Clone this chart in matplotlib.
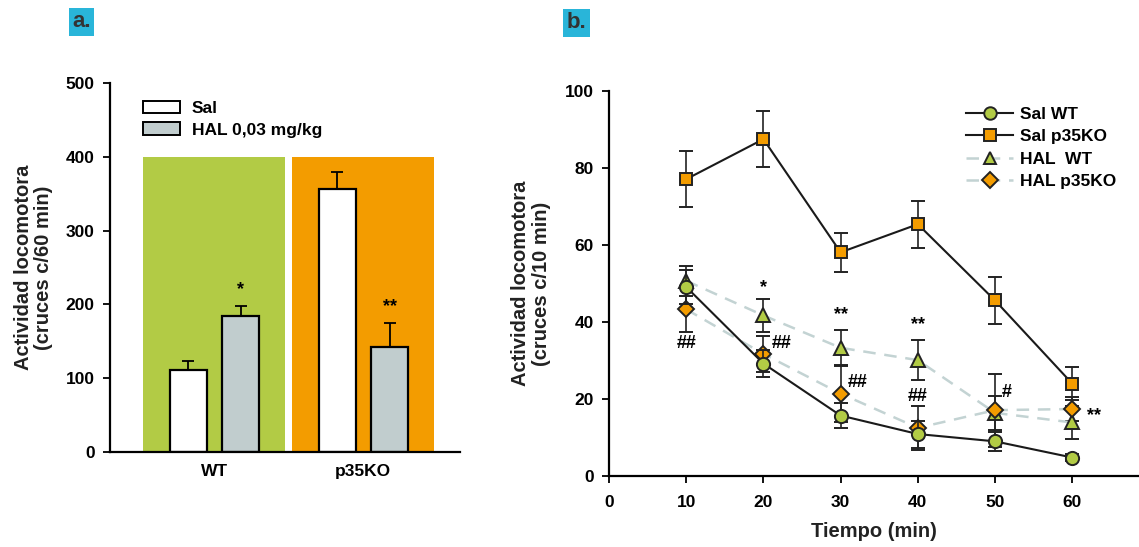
import matplotlib.pyplot as plt
import numpy as np
from matplotlib.patches import Patch
from matplotlib.lines import Line2D

plt.rcParams['font.family'] = ['Liberation Sans', 'DejaVu Sans']
plt.rcParams['font.weight'] = 'bold'

# ---------------- datos panel a ----------------
genotipos = ['WT', 'p35KO']
sal_total = [111, 356]
sal_total_se = [12, 23]
hal_total = [184, 142]
hal_total_se = [14, 33]
fondo_alto = 400
marcas_a = ['*', '**']

# ---------------- datos panel b ----------------
tiempo = [10, 20, 30, 40, 50, 60]
sal_wt = [49.1, 29.2, 15.7, 10.9, 9.0, 4.8]
sal_wt_se = [4.5, 3.6, 3.2, 3.5, 2.5, 1.0]
sal_ko = [77.1, 87.5, 58.1, 65.4, 45.6, 24.0]
sal_ko_se = [7.3, 7.3, 5.1, 6.1, 6.1, 4.2]
hal_wt = [50.7, 41.7, 33.3, 30.1, 16.4, 13.9]
hal_wt_se = [3.9, 4.2, 4.6, 5.2, 4.5, 4.4]
hal_ko = [43.3, 31.7, 21.4, 12.5, 17.1, 17.4]
hal_ko_se = [6.0, 4.7, 7.5, 5.8, 9.5, 3.0]

# anotaciones (x, y, texto)
estrellas = [(20, 46.8, '*'), (30, 39.8, '**'), (40, 37.2, '**'), (62.8, 13.6, '**')]
almohadillas = [(10, 34.3, '##'), (22.3, 34.3, '##'), (32.2, 24.4, '##'),
                (40, 20.6, '##'), (51.5, 21.6, '#')]

verde = '#b2cb45'
naranja = '#f39c00'
gris = '#c1cdce'
azul_claro = '#c3d3d3'
cian = '#29b5d9'

fig = plt.figure(figsize=(11.39, 5.47), dpi=100)

""" -------------------------- Panel a -------------------------- """
ax = fig.add_axes([0.0966, 0.1737, 0.3074, 0.6743])
xc = np.arange(len(genotipos))
ax.bar(xc, [fondo_alto] * 2, width=0.955, color=[verde, naranja], zorder=0)
ax.bar(xc - 0.172, sal_total, width=0.245, color='white', edgecolor='black', lw=1.6, zorder=2)
ax.bar(xc + 0.178, hal_total, width=0.245, color=gris, edgecolor='black', lw=1.6, zorder=2)
ax.errorbar(xc - 0.172, sal_total, yerr=[np.zeros(2), sal_total_se], fmt='none',
            ecolor='black', elinewidth=1.3, capsize=4.5, capthick=1.3, zorder=1)
ax.errorbar(xc + 0.178, hal_total, yerr=[np.zeros(2), hal_total_se], fmt='none',
            ecolor='black', elinewidth=1.3, capsize=4.5, capthick=1.3, zorder=1)
for i in range(2):
    ax.text(xc[i] + 0.178, hal_total[i] + hal_total_se[i] + 10, marcas_a[i],
            ha='center', va='bottom', fontsize=13, fontweight='bold')

ax.set_xlim(-0.698, 1.651)
ax.set_ylim(0, 500)
ax.set_yticks([0, 100, 200, 300, 400, 500])
ax.set_xticks(xc)
ax.set_xticklabels(genotipos)
ax.tick_params(axis='x', length=0, pad=9, labelsize=12.5)
ax.tick_params(axis='y', length=5, width=1.3, pad=6, labelsize=12.5)
ax.spines['top'].set_visible(False)
ax.spines['right'].set_visible(False)
ax.spines['left'].set_linewidth(1.6)
ax.spines['bottom'].set_linewidth(1.6)
ax.set_ylabel('Actividad locomotora\n(cruces c/60 min)', fontsize=14.5,
              fontweight='bold', labelpad=9, color='#222222', linespacing=1.1)
ax.legend(handles=[Patch(facecolor='white', edgecolor='black', lw=1.4, label='Sal'),
                   Patch(facecolor=gris, edgecolor='black', lw=1.4, label='HAL 0,03 mg/kg')],
          loc='upper left', bbox_to_anchor=(0.05, 0.995), frameon=False, fontsize=12.5,
          handlelength=2.1, handleheight=0.75, handletextpad=0.7, labelspacing=0.35)

""" -------------------------- Panel b -------------------------- """
bx = fig.add_axes([0.5347, 0.1298, 0.4643, 0.7038])
ek = dict(ecolor='#222222', elinewidth=1.2, capsize=5, capthick=1.2, ms=9.5, mec='#222222', mew=1.4)
bx.errorbar(tiempo, hal_wt, yerr=hal_wt_se, fmt='^', ls=(0, (5, 3.5)), color=azul_claro, lw=1.8,
            mfc=verde, label='HAL  WT', zorder=2, **ek)
bx.errorbar(tiempo, hal_ko, yerr=hal_ko_se, fmt='D', ls=(0, (5, 3.5)), color=azul_claro, lw=1.8,
            mfc=naranja, label='HAL p35KO', zorder=2, **dict(ek, ms=8.5))
bx.errorbar(tiempo, sal_wt, yerr=sal_wt_se, fmt='o', ls='-', color='#1a1a1a', lw=1.5,
            mfc=verde, label='Sal WT', zorder=3, **ek)
bx.errorbar(tiempo, sal_ko, yerr=sal_ko_se, fmt='s', ls='-', color='#1a1a1a', lw=1.5,
            mfc=naranja, label='Sal p35KO', zorder=3, **dict(ek, ms=8.5))
for x, y, t in estrellas:
    bx.text(x, y, t, ha='center', va='bottom', fontsize=13, fontweight='bold')
for x, y, t in almohadillas:
    bx.text(x, y, t, ha='center', va='center', fontsize=13, fontweight='bold')

bx.set_xlim(0, 68.5)
bx.set_ylim(0, 100)
bx.set_xticks(range(0, 61, 10))
bx.set_yticks(range(0, 101, 20))
bx.tick_params(axis='x', length=5, width=1.3, pad=9, labelsize=12.5)
bx.tick_params(axis='y', length=5, width=1.3, pad=6, labelsize=12.5)
bx.spines['top'].set_visible(False)
bx.spines['right'].set_visible(False)
bx.spines['left'].set_linewidth(1.6)
bx.spines['bottom'].set_linewidth(1.6)
bx.set_xlabel('Tiempo (min)', fontsize=14.5, fontweight='bold', labelpad=8, color='#222222')
bx.set_ylabel('Actividad locomotora\n(cruces c/10 min)', fontsize=14.5,
              fontweight='bold', labelpad=10, color='#222222', linespacing=1.1)

hand = [Line2D([], [], color='#1a1a1a', lw=1.5, marker='o', ms=9, mfc=verde, mec='#222222', mew=1.4),
        Line2D([], [], color='#1a1a1a', lw=1.5, marker='s', ms=8.5, mfc=naranja, mec='#222222', mew=1.4),
        Line2D([], [], color=azul_claro, lw=1.8, ls=(0, (5, 3.5)), marker='^', ms=9, mfc=verde,
               mec='#222222', mew=1.4),
        Line2D([], [], color=azul_claro, lw=1.8, ls=(0, (5, 3.5)), marker='D', ms=8, mfc=naranja,
               mec='#222222', mew=1.4)]
bx.legend(hand, ['Sal WT', 'Sal p35KO', 'HAL  WT', 'HAL p35KO'], loc='upper left',
          bbox_to_anchor=(0.645, 1.0), frameon=False, fontsize=12.5, handlelength=2.75,
          handletextpad=0.4, labelspacing=0.42)

fig.text(0.0715, 0.96, 'a.', fontsize=16, color='#333333', ha='center', va='center',
         bbox=dict(boxstyle='square,pad=0.15', fc=cian, ec='none'))
fig.text(0.506, 0.958, 'b.', fontsize=16, color='#333333', ha='center', va='center',
         bbox=dict(boxstyle='square,pad=0.15', fc=cian, ec='none'))

fig.savefig('out.png', dpi=100)
